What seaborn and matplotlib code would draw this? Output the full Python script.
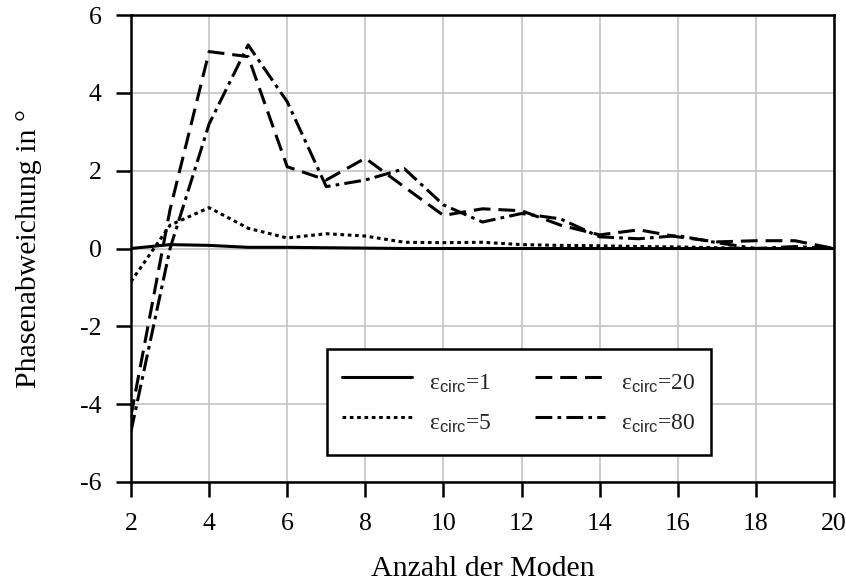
import matplotlib
matplotlib.use("Agg")
import matplotlib.pyplot as plt
from matplotlib.lines import Line2D
import seaborn as sns
import pandas as pd

# Data
modes = [2, 3, 4, 5, 6, 7, 8, 9, 10, 11, 12, 13, 14, 15, 16, 17, 18, 19, 20]
eps1 = [0.0, 0.10, 0.08, 0.03, 0.03, 0.02, 0.01, 0.0, 0.0, 0.0, 0.0, 0.0, 0.0, 0.0, 0.0, 0.0, 0.0, 0.0, 0.0]
eps5 = [-0.85, 0.6, 1.05, 0.52, 0.27, 0.38, 0.32, 0.16, 0.15, 0.16, 0.1, 0.08, 0.07, 0.05, 0.04, 0.02, 0.0, 0.0, 0.0]
eps20 = [-4.3, 1.0, 5.06, 4.93, 2.1, 1.76, 2.32, 1.58, 0.85, 1.02, 0.97, 0.6, 0.35, 0.48, 0.3, 0.17, 0.2, 0.2, 0.0]
eps80 = [-4.7, 0.0, 3.2, 5.23, 3.77, 1.59, 1.76, 2.05, 1.12, 0.68, 0.9, 0.76, 0.3, 0.25, 0.33, 0.15, 0.0, 0.05, 0.0]
series_names = ["ε$_{\\mathsf{circ}}$=1", "ε$_{\\mathsf{circ}}$=5",
                "ε$_{\\mathsf{circ}}$=20", "ε$_{\\mathsf{circ}}$=80"]
x_label = "Anzahl der Moden"
y_label = "Phasenabweichung in °"
x_ticks = [2, 4, 6, 8, 10, 12, 14, 16, 18, 20]
y_ticks = [-6, -4, -2, 0, 2, 4, 6]

sns.set_theme(style="white")
plt.rcParams['font.family'] = ['Liberation Serif', 'DejaVu Serif']
plt.rcParams['mathtext.fontset'] = 'custom'
plt.rcParams['mathtext.rm'] = 'Liberation Serif'
plt.rcParams['mathtext.sf'] = 'Liberation Sans'
plt.rcParams['mathtext.it'] = 'Liberation Serif:italic'
plt.rcParams['axes.unicode_minus'] = False

frames = []
for name, vals in zip(series_names, [eps1, eps5, eps20, eps80]):
    frames.append(pd.DataFrame({"x": modes, "y": vals, "series": name}))
df = pd.concat(frames, ignore_index=True)

fig = plt.figure(figsize=(8.46, 5.85), dpi=100)
ax = fig.add_axes([131/846, 1-482/585, (834-131)/846, (482-15)/585])

LW = 2.2
dash_map = {
    series_names[0]: "",
    series_names[1]: (1.2, 1.2),
    series_names[2]: (5.5, 2.6),
    series_names[3]: (5.5, 1.7, 1.2, 1.7),
}
sns.lineplot(data=df, x="x", y="y", style="series", dashes=dash_map,
             color="black", linewidth=LW, ax=ax, legend=False,
             style_order=series_names)

ax.set_xlim(2, 20)
ax.set_ylim(-6, 6)
ax.set_xticks(x_ticks)
ax.set_yticks(y_ticks)
ax.grid(True, color="#c4c4c4", linewidth=1.2)
ax.set_axisbelow(True)
for s in ax.spines.values():
    s.set_color("black")
    s.set_linewidth(1.8)
ax.tick_params(axis="both", which="both", direction="out", length=11, width=1.8,
               color="black", labelsize=18.5, labelcolor="black",
               left=True, bottom=True, top=False, right=False)
ax.tick_params(axis="x", pad=11)
ax.tick_params(axis="y", pad=10)
ax.set_xlabel(x_label, fontsize=21.5, color="black")
ax.set_ylabel(y_label, fontsize=21.5, color="black")
ax.xaxis.set_label_coords(0.5, (482-556)/467)
ax.yaxis.set_label_coords((42-131)/703, 0.5)

handles = []
for name in series_names:
    d = dash_map[name]
    if d == "":
        h = Line2D([], [], color="black", lw=LW, linestyle="-")
    else:
        h = Line2D([], [], color="black", lw=LW, linestyle=(0, d))
    handles.append(h)
leg = ax.legend(handles, series_names, ncol=2, loc="upper left",
                bbox_to_anchor=((327-131)/703, (482-349)/467),
                borderaxespad=0,
                fontsize=17, frameon=True, fancybox=False, edgecolor="black",
                framealpha=1, handlelength=2.95, handleheight=1.97,
                columnspacing=1.86, labelspacing=0.15, borderpad=0.65,
                handletextpad=0.7)
leg.get_frame().set_linewidth(1.8)

fig.savefig("out.png", dpi=100)
